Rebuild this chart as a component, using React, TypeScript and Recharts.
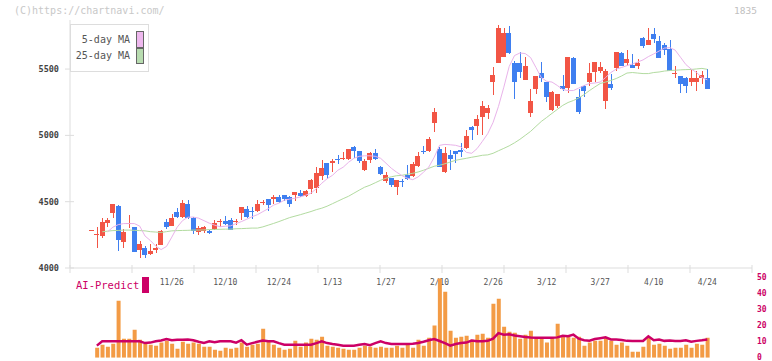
import React from "react";
import { ComposedChart, Bar, Line, XAxis, YAxis } from "recharts";

// trading days shown on the chart
const dates = [
  "11/4", "11/5", "11/6", "11/7", "11/10", "11/11", "11/12", "11/13", "11/14", "11/17",
  "11/18", "11/19", "11/20", "11/21", "11/25", "11/26", "11/27", "11/28", "12/1", "12/2",
  "12/3", "12/4", "12/5", "12/8", "12/9", "12/10", "12/11", "12/12", "12/15", "12/16",
  "12/17", "12/18", "12/19", "12/22", "12/23", "12/24", "12/25", "12/26", "12/29", "12/30",
  "1/5", "1/6", "1/7", "1/8", "1/9", "1/13", "1/14", "1/15", "1/16", "1/19",
  "1/20", "1/21", "1/22", "1/23", "1/26", "1/27", "1/28", "1/29", "1/30", "2/2",
  "2/3", "2/4", "2/5", "2/6", "2/9", "2/10", "2/12", "2/13", "2/16", "2/17",
  "2/18", "2/19", "2/20", "2/24", "2/25", "2/26", "2/27", "3/2", "3/3", "3/4",
  "3/5", "3/6", "3/9", "3/10", "3/11", "3/12", "3/13", "3/16", "3/17", "3/18",
  "3/19", "3/23", "3/24", "3/25", "3/26", "3/27", "3/30", "3/31", "4/1", "4/2",
  "4/3", "4/6", "4/7", "4/8", "4/9", "4/10", "4/13", "4/14", "4/15", "4/16",
  "4/17", "4/20", "4/21", "4/22", "4/23", "4/24",
];

const opens = [
  4282, 4246, 4243, 4341, 4416, 4468, 4198, 4338, 4308, 4135,
  4148, 4108, 4135, 4173, 4346, 4316, 4421, 4383, 4481, 4376,
  4271, 4278, 4278, 4293, 4348, 4353, 4361, 4351, 4413, 4444,
  4428, 4429, 4494, 4519, 4519, 4534, 4549, 4534, 4549, 4564,
  4541, 4594, 4602, 4692, 4790, 4790, 4822, 4825, 4820, 4910,
  4880, 4737, 4812, 4865, 4759, 4654, 4677, 4609, 4656, 4699,
  4692, 4767, 4882, 4880, 5090, 4895, 4722, 4850, 4880, 4887,
  4902, 5060, 5068, 5135, 5165, 5399, 5549, 5594, 5775, 5549,
  5549, 5421, 5165, 5346, 5474, 5399, 5188, 5218, 5369, 5361,
  5587, 5293, 5376, 5399, 5481, 5489, 5263, 5384, 5511, 5624,
  5549, 5534, 5526, 5737, 5684, 5767, 5715, 5684, 5654, 5464,
  5444, 5436, 5406, 5406, 5429, 5429,
];
const highs = [
  4286, 4306, 4378, 4378, 4483, 4476, 4291, 4398, 4310, 4203,
  4165, 4180, 4180, 4286, 4368, 4406, 4451, 4511, 4511, 4383,
  4316, 4316, 4286, 4361, 4368, 4391, 4376, 4368, 4459, 4466,
  4459, 4511, 4511, 4521, 4549, 4549, 4551, 4541, 4573, 4586,
  4586, 4669, 4760, 4812, 4792, 4820, 4850, 4872, 4897, 4917,
  4882, 4820, 4872, 4895, 4767, 4722, 4679, 4664, 4669, 4775,
  4797, 4872, 4917, 4985, 5203, 4910, 4910, 4887, 4882, 4940,
  5038, 5068, 5150, 5263, 5226, 5519, 5835, 5812, 5827, 5564,
  5632, 5594, 5346, 5444, 5557, 5401, 5331, 5309, 5459, 5594,
  5594, 5346, 5378, 5549, 5557, 5557, 5504, 5466, 5632, 5626,
  5647, 5617, 5579, 5739, 5812, 5812, 5752, 5700, 5722, 5526,
  5446, 5438, 5496, 5489, 5489, 5504,
];
const lows = [
  4281, 4153, 4228, 4311, 4378, 4130, 4153, 4298, 4120, 4077,
  4077, 4098, 4110, 4170, 4293, 4313, 4376, 4376, 4373, 4256,
  4248, 4263, 4256, 4286, 4311, 4323, 4286, 4323, 4361, 4376,
  4368, 4421, 4474, 4429, 4481, 4489, 4504, 4459, 4504, 4534,
  4539, 4556, 4564, 4662, 4669, 4722, 4782, 4812, 4812, 4827,
  4790, 4735, 4790, 4812, 4705, 4639, 4609, 4549, 4609, 4667,
  4684, 4760, 4857, 4872, 5023, 4760, 4714, 4737, 4790, 4835,
  4895, 4963, 5000, 5000, 5120, 5301, 5547, 5592, 5617, 5271,
  5436, 5419, 5135, 5309, 5399, 5248, 5186, 5203, 5331, 5316,
  5391, 5158, 5286, 5376, 5406, 5474, 5196, 5339, 5489, 5526,
  5526, 5511, 5504, 5662, 5682, 5700, 5587, 5609, 5489, 5436,
  5316, 5316, 5376, 5331, 5391, 5346,
];
const closes = [
  4284, 4258, 4346, 4361, 4481, 4211, 4273, 4343, 4123, 4180,
  4098, 4128, 4150, 4278, 4308, 4376, 4383, 4489, 4376, 4278,
  4301, 4308, 4263, 4341, 4352, 4331, 4286, 4355, 4459, 4383,
  4424, 4481, 4498, 4474, 4534, 4496, 4519, 4481, 4571, 4541,
  4579, 4662, 4714, 4752, 4699, 4805, 4818, 4829, 4895, 4880,
  4805, 4805, 4865, 4820, 4707, 4699, 4624, 4662, 4652, 4669,
  4782, 4842, 4878, 4970, 5173, 4760, 4865, 4820, 4857, 4872,
  4993, 5038, 5120, 5218, 5203, 5459, 5812, 5775, 5624, 5399,
  5481, 5526, 5256, 5444, 5436, 5286, 5324, 5309, 5346, 5594,
  5391, 5180, 5331, 5474, 5557, 5519, 5489, 5361, 5632, 5526,
  5579, 5511, 5549, 5677, 5722, 5730, 5587, 5647, 5489, 5468,
  5391, 5369, 5436, 5436, 5459, 5346,
];

const ma5 = [
  null, null, null, 4273, 4308, 4327, 4335, 4335, 4335, 4316,
  4241, 4207, 4165, 4139, 4162, 4233, 4308, 4357, 4383, 4384,
  4376, 4357, 4338, 4323, 4311, 4315, 4318, 4335, 4350, 4368,
  4387, 4402, 4425, 4447, 4474, 4489, 4511, 4519, 4526, 4536,
  4549, 4564, 4598, 4639, 4673, 4699, 4737, 4760, 4797, 4827,
  4842, 4846, 4846, 4842, 4827, 4790, 4752, 4722, 4696, 4677,
  4666, 4687, 4722, 4762, 4835, 4925, 4932, 4929, 4925, 4914,
  4872, 4865, 4900, 4955, 5013, 5098, 5218, 5363, 5519, 5602,
  5621, 5617, 5587, 5512, 5436, 5408, 5402, 5376, 5346, 5338,
  5338, 5357, 5376, 5391, 5395, 5402, 5436, 5474, 5500, 5512,
  5526, 5538, 5553, 5569, 5594, 5614, 5636, 5658, 5662, 5643,
  5589, 5534, 5500, 5474, 5436, 5419,
];
const ma25 = [
  null, null, 4273, 4278, 4282, 4283, 4286, 4286, 4284, 4282,
  4280, 4274, 4271, 4268, 4274, 4280, 4282, 4283, 4284, 4286,
  4286, 4287, 4290, 4291, 4292, 4293, 4293, 4296, 4297, 4299,
  4301, 4301, 4310, 4323, 4336, 4350, 4365, 4380, 4391, 4402,
  4414, 4426, 4440, 4451, 4466, 4485, 4504, 4523, 4541, 4564,
  4587, 4609, 4624, 4643, 4662, 4677, 4688, 4696, 4699, 4707,
  4714, 4724, 4737, 4752, 4767, 4775, 4786, 4799, 4812, 4820,
  4827, 4835, 4842, 4850, 4853, 4865, 4884, 4902, 4921, 4944,
  4970, 5000, 5030, 5068, 5105, 5135, 5166, 5196, 5226, 5248,
  5263, 5282, 5308, 5338, 5365, 5391, 5402, 5414, 5429, 5448,
  5470, 5474, 5470, 5466, 5466, 5474, 5478, 5485, 5489, 5491,
  5494, 5496, 5497, 5501, 5505, 5498,
];

const volumes = [
  null, 6.3, 8.2, 6.9, 8.8, 35.9, 12, 12, 17.6, 11.3,
  8.8, 8.2, 7.6, 9.5, 10.7, 8.8, 5.7, 10.1, 8.8, 9.5,
  8.8, 6.9, 6.9, 5, 4.4, 6.3, 5.7, 6.3, 9.5, 6.9,
  8.2, 8.8, 18.3, 10.7, 8.2, 6.3, 5, 5.7, 10.7, 6.9,
  9.5, 12, 11.3, 13.2, 7.6, 6.9, 6.3, 5.7, 5, 5,
  6.3, 7.6, 6.9, 6.3, 6.9, 6.3, 6.3, 7.6, 6.3, 8.2,
  6.3, 11.3, 7.6, 12.6, 20.2, 50, 41.6, 17, 12.6, 13.2,
  13.8, 11.3, 14.5, 15.1, 12.6, 34, 37.1, 19.5, 16.4, 15.7,
  12, 14.5, 17, 12.6, 12.6, 9.5, 12.6, 21.4, 13.8, 13.2,
  12.6, 13.2, 7.6, 9.5, 10.7, 10.7, 12.6, 10.7, 8.2, 9.5,
  7.6, 3.8, 3.8, 6.9, 12.6, 8.2, 8.8, 7.6, 5.7, 6.3,
  6.3, 8.2, 6.3, 8.8, 8.2, 12.6,
];
const aiPredict = [
  null, 7.6, 10.3, 10.3, 10.3, 10.3, 10.3, 10.3, 10.3, 10.3,
  9.2, 9.5, 10.3, 10.8, 11.8, 11, 11.3, 11.3, 11.5, 11,
  10, 9.3, 10.3, 9.8, 10.3, 10.3, 10.3, 9.5, 11, 8.2,
  9.2, 10, 10.8, 10.3, 10.3, 9.2, 8.2, 8.2, 8.2, 8.2,
  8.2, 8.2, 9.2, 10.3, 9.2, 8.6, 8.2, 7.6, 7.6, 7.6,
  8.2, 8.6, 7.9, 9.2, 10.3, 9.2, 8.6, 8.6, 8.6, 8.6,
  8.8, 9.2, 10, 11, 11.8, 10.5, 9.2, 7.6, 8.6, 9.2,
  9.5, 10.8, 10.3, 10.3, 10.6, 12, 15.5, 14.5, 14.7, 14,
  13.5, 13, 12.7, 12.5, 12.5, 12.5, 12.6, 12.8, 13.8, 13.5,
  14.5, 12, 11, 10.7, 11.8, 12.3, 12.8, 11.5, 11.5, 11.2,
  10.6, 10.5, 10.5, 10.5, 13.5, 11, 11.5, 10.6, 10.8, 10.5,
  10.5, 11, 10, 10.6, 11, 11.5,
];

const priceTicks = [4000, 4500, 5000, 5500];
const aiTicks = [0, 10, 20, 30, 40, 50];
const labelIdx = [15, 25, 35, 45, 55, 65, 75, 85, 95, 105, 115];

const X_DOMAIN: [number, number] = [-4.015, 123.35];
// light tick marks on the date axis, every ~62px
const markTicks = Array.from({ length: 12 }, (_, k) => X_DOMAIN[0] + k * ((X_DOMAIN[1] - X_DOMAIN[0]) / 11));

const UP = "#f25545";
const DOWN = "#3f7ff0";
const FONT = "'DejaVu Sans Mono', monospace";

const priceData = dates.map((date, i) => ({
  idx: i,
  date,
  open: opens[i],
  high: highs[i],
  low: lows[i],
  close: closes[i],
  ma5: ma5[i],
  ma25: ma25[i],
}));

const lowerData = dates.map((date, i) => ({
  idx: i,
  date,
  vol: volumes[i],
  ai: aiPredict[i],
}));

const Candle = (props: any) => {
  const { x, y, width, height, payload } = props;
  if (x == null || y == null) return null;
  const { open, close, high, low } = payload;
  const h = Math.abs(height || 0);
  const top = height < 0 ? y + height : y;
  const ratio = high === low ? 0 : h / (high - low);
  const yOf = (v: number) => top + (high - v) * ratio;
  const color = close >= open ? UP : DOWN;
  const bTop = yOf(Math.max(open, close));
  const bBot = yOf(Math.min(open, close));
  const cx = x + width / 2;
  return (
    <g shapeRendering="crispEdges">
      <rect x={Math.round(cx) - 0.5} y={top} width={1} height={Math.max(h, 1)} fill={color} />
      <rect x={cx - 2.5} y={bTop} width={5} height={Math.max(bBot - bTop, 1)} fill={color} />
    </g>
  );
};

const XTick = (props: any) => {
  const { x, y, payload } = props;
  const v = payload.value;
  if (labelIdx.includes(v)) {
    return (
      <text x={x} y={y + 17} textAnchor="middle" fontFamily={FONT} fontSize={8} fill="#555">
        {dates[v]}
      </text>
    );
  }
  return <line x1={x} x2={x} y1={y - 3} y2={y + 5} stroke="#ddd" />;
};

const YTick = (props: any) => {
  const { x, y, payload } = props;
  return (
    <g>
      <line x1={x - 5} x2={x + 4} y1={y} y2={y} stroke="#ddd" />
      <text x={x - 11} y={y} dy={3} textAnchor="end" fontFamily={FONT} fontSize={8.5} fontWeight="bold" fill="#444">
        {payload.value}
      </text>
    </g>
  );
};

const AiTick = (props: any) => {
  const { x, y, payload } = props;
  return (
    <text x={x + 5} y={y} dy={2} textAnchor="start" fontFamily={FONT} fontSize={8} fontWeight="bold" fill="#cc0066">
      {payload.value}
    </text>
  );
};

export default function App() {
  return (
    <div style={{ position: "absolute", left: 0, top: 0, width: 772, height: 361, background: "#fff", fontFamily: FONT }}>
      <div style={{ position: "absolute", left: 0, top: 0 }}>
        <ComposedChart width={772} height={300} data={priceData} margin={{ top: 20, right: 20, bottom: 0, left: 0 }}>
          <XAxis
            type="number"
            dataKey="idx"
            domain={X_DOMAIN}
            allowDataOverflow
            ticks={[...markTicks, ...labelIdx]}
            interval={0}
            tick={<XTick />}
            tickLine={false}
            tickSize={0}
            tickMargin={0}
            axisLine={{ stroke: "#ddd" }}
            height={32}
          />
          <YAxis
            type="number"
            domain={[4000, 5870]}
            allowDataOverflow
            ticks={priceTicks}
            interval={0}
            tick={<YTick />}
            tickLine={false}
            tickSize={0}
            tickMargin={0}
            axisLine={{ stroke: "#ddd" }}
            width={70}
          />
          <Line dataKey="ma25" stroke="#b2dba0" strokeWidth={1} dot={false} isAnimationActive={false} />
          <Line dataKey="ma5" stroke="#e9b3ea" strokeWidth={1} dot={false} isAnimationActive={false} />
          <Bar dataKey={(d: any) => [d.low, d.high]} barSize={5} shape={<Candle />} isAnimationActive={false} />
        </ComposedChart>
      </div>

      <div style={{ position: "absolute", left: 0, top: 270 }}>
        <ComposedChart width={772} height={91} data={lowerData} margin={{ top: 8.3, right: 0, bottom: 3.3, left: 70 }}>
          <XAxis type="number" dataKey="idx" domain={X_DOMAIN} allowDataOverflow hide />
          <YAxis
            orientation="right"
            type="number"
            domain={[0, 50]}
            allowDataOverflow
            ticks={aiTicks}
            interval={0}
            tick={<AiTick />}
            tickLine={false}
            tickSize={0}
            tickMargin={0}
            axisLine={false}
            width={20}
          />
          <Bar dataKey="vol" barSize={4} fill="#f39b45" isAnimationActive={false} />
          <Line dataKey="ai" stroke="#cc0066" strokeWidth={2.5} dot={false} isAnimationActive={false} />
        </ComposedChart>
      </div>

      <div style={{ position: "absolute", left: 14, top: 5, fontSize: 10, color: "#c8c8c8", whiteSpace: "nowrap" }}>
        (C)https://chartnavi.com/
      </div>
      <div style={{ position: "absolute", right: 15, top: 5, fontSize: 9.5, color: "#c0c0c0" }}>1835</div>

      <div
        style={{
          position: "absolute",
          left: 70,
          top: 24,
          width: 77,
          height: 46,
          border: "1px solid #ddd",
          background: "#fff",
          fontSize: 10,
          color: "#555",
        }}
      >
        <div style={{ position: "absolute", right: 18, top: 9, whiteSpace: "nowrap" }}>5-day MA</div>
        <div style={{ position: "absolute", left: 65, top: 6, width: 6, height: 15, background: "#eeb8ee", border: "1px solid #666" }} />
        <div style={{ position: "absolute", right: 18, top: 25, whiteSpace: "nowrap" }}>25-day MA</div>
        <div style={{ position: "absolute", left: 65, top: 23, width: 6, height: 14, background: "#b8dcb0", border: "1px solid #666" }} />
      </div>

      <div style={{ position: "absolute", left: 76, top: 279, fontSize: 10.5, color: "#cc0066", whiteSpace: "nowrap" }}>AI-Predict</div>
      <div style={{ position: "absolute", left: 142, top: 277, width: 7, height: 16, background: "#cc0066" }} />
    </div>
  );
}
